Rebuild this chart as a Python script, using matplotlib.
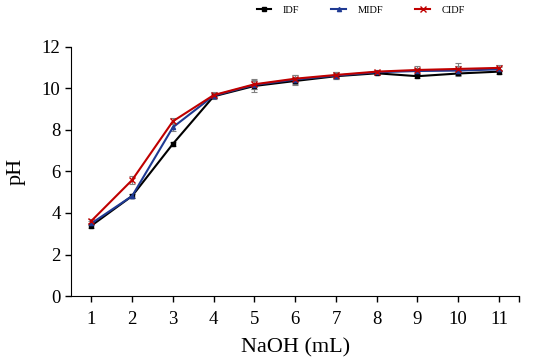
import matplotlib

matplotlib.use('Agg')
import matplotlib.pyplot as plt
from matplotlib.lines import Line2D
import numpy as np

plt.rcParams['font.family'] = ['Liberation Serif', 'DejaVu Serif']

# 数据
naoh = [1, 2, 3, 4, 5, 6, 7, 8, 9, 10, 11]
ph_idf = [3.39, 4.82, 7.33, 9.62, 10.12, 10.36, 10.59, 10.73, 10.59, 10.72, 10.81]
ph_midf = [3.50, 4.82, 8.13, 9.65, 10.17, 10.43, 10.62, 10.78, 10.84, 10.86, 10.92]
ph_cidf = [3.62, 5.59, 8.42, 9.68, 10.20, 10.47, 10.65, 10.81, 10.89, 10.94, 10.99]
err_idf = [0.10, 0.10, 0.10, 0.15, 0.30, 0.20, 0.15, 0.10, 0.10, 0.10, 0.10]
err_midf = [0.10, 0.10, 0.20, 0.10, 0.20, 0.20, 0.15, 0.10, 0.15, 0.20, 0.10]
err_cidf = [0.10, 0.20, 0.15, 0.15, 0.25, 0.20, 0.15, 0.10, 0.20, 0.30, 0.15]

fig = plt.figure(figsize=(5.36, 3.61), dpi=100)
ax = fig.add_axes([0.1325, 0.18, 0.8365, 0.69])

series = [
    ('IDF', ph_idf, err_idf, 'black', 's', 3),
    ('MIDF', ph_midf, err_midf, '#1f3a93', '^', 3),
    ('CIDF', ph_cidf, err_cidf, '#c00000', 'x', 4),
]
handles = []
for name, y, e, c, m, ms in series:
    ax.errorbar(naoh, y, yerr=e, color=c, marker=m, markersize=ms,
                linewidth=1.5, ecolor='#808080', elinewidth=0.8,
                capsize=2, capthick=0.8)
    handles.append(Line2D([], [], color=c, marker=m, markersize=ms,
                          linewidth=1.5, label=name))

ax.set_xlim(0.5, 11.5)
ax.set_ylim(0, 12)
ax.set_xticks(naoh)
ax.set_xticks([11.5], minor=True)
ax.set_yticks(np.arange(0, 13, 2))
ax.tick_params(axis='both', which='both', direction='out', length=4,
               width=1, labelsize=13.5, color='black')
ax.tick_params(axis='x', pad=7)
ax.spines['top'].set_visible(False)
ax.spines['right'].set_visible(False)
ax.set_xlabel('NaOH (mL)', fontsize=16, labelpad=7)
ax.set_ylabel('pH', fontsize=16, labelpad=12)

fig.legend(handles=handles, loc='upper center', bbox_to_anchor=(0.673, 1.01),
           ncol=3, frameon=False, fontsize=7.5, handlelength=1.4,
           handletextpad=1.1, columnspacing=3.1)

fig.savefig('out.png', dpi=100)
